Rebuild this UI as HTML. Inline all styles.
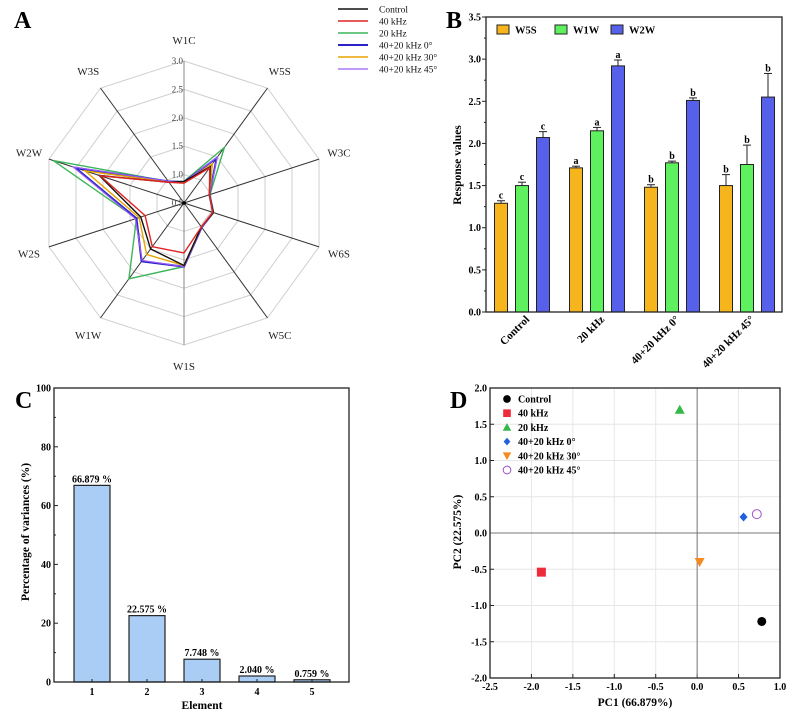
<!DOCTYPE html>
<html><head><meta charset="utf-8"><style>
body{margin:0;background:#fff}
svg{display:block;font-family:"Liberation Serif",serif}
</style></head><body>
<svg id="fig" width="787" height="713" viewBox="0 0 787 713" xmlns="http://www.w3.org/2000/svg">
<g id="A"></g>
<g id="B"></g>
<g id="C"></g>
<g id="D"></g>
</svg>
<script>
// ---- Panel A data ----
const radarAxes = ["W1C","W5S","W3C","W6S","W5C","W1S","W1W","W2S","W2W","W3S"];
const radarTicks = [0.5,1.0,1.5,2.0,2.5,3.0];
const radarNames = ["Control","40 kHz","20 kHz","40+20 kHz 0°","40+20 kHz 30°","40+20 kHz 45°"];
const radarControl = [0.88,1.29,0.97,1.04,1.02,1.60,1.50,1.30,2.07,0.95];
const radar40 = [0.85,1.27,0.97,1.03,1.02,1.38,1.45,1.22,2.05,0.95];
const radar20 = [0.88,1.71,0.98,1.05,1.03,1.62,2.15,1.38,2.92,0.97];
const radar0 = [0.87,1.48,0.97,1.04,1.03,1.62,1.77,1.38,2.51,0.97];
const radar30 = [0.86,1.35,0.97,1.04,1.02,1.60,1.62,1.33,2.33,0.95];
const radar45 = [0.87,1.50,0.97,1.04,1.03,1.62,1.75,1.40,2.55,0.97];
// ---- Panel B data ----
const barGroups = ["Control","20 kHz","40+20 kHz 0°","40+20 kHz 45°"];
const barSeries = ["W5S","W1W","W2W"];
const barW5S = [1.29,1.71,1.48,1.50];
const barW1W = [1.50,2.15,1.77,1.75];
const barW2W = [2.07,2.92,2.51,2.55];
const errW5S = [0.03,0.02,0.03,0.13];
const errW1W = [0.04,0.04,0.02,0.23];
const errW2W = [0.07,0.07,0.03,0.28];
const letW5S = ["c","a","b","b"];
const letW1W = ["c","a","b","b"];
const letW2W = ["c","a","b","b"];
const barYTicks = [0,0.5,1.0,1.5,2.0,2.5,3.0,3.5];
// ---- Panel C data ----
const varElements = ["1","2","3","4","5"];
const varValues = [66.879,22.575,7.748,2.040,0.759];
const varLabels = ["66.879 %","22.575 %","7.748 %","2.040 %","0.759 %"];
const varYTicks = [0,20,40,60,80,100];
// ---- Panel D data ----
const pcaNames = ["Control","40 kHz","20 kHz","40+20 kHz 0°","40+20 kHz 30°","40+20 kHz 45°"];
const pcaX = [0.78,-1.88,-0.21,0.56,0.03,0.72];
const pcaY = [-1.22,-0.54,1.70,0.22,-0.40,0.26];
const pcaXTicks = [-2.5,-2.0,-1.5,-1.0,-0.5,0.0,0.5,1.0];
const pcaYTicks = [-2.0,-1.5,-1.0,-0.5,0.0,0.5,1.0,1.5,2.0];

const NS="http://www.w3.org/2000/svg";
function mk(parent,tag,attrs,text){const e=document.createElementNS(NS,tag);for(const k in attrs)e.setAttribute(k,attrs[k]);if(text!==undefined)e.textContent=text;parent.appendChild(e);return e;}

// ===== Panel A =====
(function(){
const g=document.getElementById('A');
const cx=184,cy=203;
const r=v=>(v-0.5)*56.8;
const ang=i=>i*Math.PI*2/radarAxes.length;
const pt=(i,v)=>[cx+Math.sin(ang(i))*r(v),cy-Math.cos(ang(i))*r(v)];
let t=mk(g,'text',{x:14,y:28,'font-size':24,'font-weight':'bold'},'A');


radarTicks.slice(1).forEach(tv=>{
  const pts=radarAxes.map((a,i)=>pt(i,tv).join(',')).join(' ');
  const p=mk(g,'polygon',{points:pts,fill:'none',stroke:'#cfcfcf','stroke-width':1});
  
  
});
radarAxes.forEach((a,i)=>{
  const [x,y]=pt(i,3.0);
  const l=mk(g,'line',{x1:cx,y1:cy,x2:x,y2:y,stroke:(i===0||i===5)?'#888':'#333','stroke-width':1});
  
  
  const lx=cx+Math.sin(ang(i))*163, ly=cy-Math.cos(ang(i))*163;
  const tx=mk(g,'text',{x:lx,y:ly+4,'font-size':11,'text-anchor':'middle',fill:'#222'},a);
  
  
});
radarTicks.forEach(tv=>{
  const tx=mk(g,'text',{x:cx-1,y:cy-r(tv)+3,'font-size':9,'text-anchor':'end',fill:'#444'},tv.toFixed(1));
  
  
});
const series=[radarControl,radar40,radar20,radar0,radar30,radar45];
const cols=['#111','#e02424','#3cb55a','#2a22c8','#e8a400','#9a5cf5'];
const widths=[1.4,1.4,1.4,2,1.4,1.2];
const order=[2,3,5,4,0,1];
order.forEach(s=>{
  const pts=series[s].map((v,i)=>pt(i,v).join(',')).join(' ');
  const p=mk(g,'polygon',{points:pts,fill:'none',stroke:cols[s],'stroke-width':widths[s]});
  
  
});
mk(g,'circle',{cx:cx,cy:cy,r:1.8,fill:'#000'});
radarNames.forEach((n,s)=>{
  const y=9+s*12;
  const l=mk(g,'line',{x1:338,y1:y,x2:368,y2:y,stroke:cols[s],'stroke-width':widths[s]});
  
  
  const tx=mk(g,'text',{x:379,y:y+3.5,'font-size':9.5,fill:'#111'},n);
  
  
});
})();

// ===== Panel B =====
(function(){
const g=document.getElementById('B');
const x0=486,x1=782,yT=17,yB=312;
const ys=v=>yB-(v/3.5)*(yB-yT);
const gx=i=>522+i*75;
const t=mk(g,'text',{x:446,y:28,'font-size':24,'font-weight':'bold'},'B');


barYTicks.forEach(tv=>{
  const y=ys(tv);
  mk(g,'line',{x1:x0-4,y1:y,x2:x0,y2:y,stroke:'#222'});
  if(tv<3.5) mk(g,'line',{x1:x0-2,y1:ys(tv+0.25),x2:x0,y2:ys(tv+0.25),stroke:'#222'});
  const tx=mk(g,'text',{x:x0-5,y:y+3.5,'font-size':10,'font-weight':'bold','text-anchor':'end'},tv.toFixed(1));
  
  
});
const yl=mk(g,'text',{x:0,y:0,'font-size':11.5,'font-weight':'bold','text-anchor':'middle',transform:'translate(461,165) rotate(-90)'},'Response values');


const vals=[barW5S,barW1W,barW2W],errs=[errW5S,errW1W,errW2W],lets=[letW5S,letW1W,letW2W];
const cols=['#f6b51c','#5ef05e','#5660ea'];
barGroups.forEach((gn,i)=>{
  vals.forEach((arr,s)=>{
    const cx=gx(i)+(s-1)*21;
    const y=ys(arr[i]);
    const b=mk(g,'rect',{x:cx-6.5,y:y,width:13,height:yB-y,fill:cols[s],stroke:'#222','stroke-width':1});
    
    
    const ye=ys(arr[i]+errs[s][i]);
    mk(g,'line',{x1:cx,y1:y,x2:cx,y2:ye,stroke:'#222'});
    mk(g,'line',{x1:cx-4,y1:ye,x2:cx+4,y2:ye,stroke:'#222'});
    const lt=mk(g,'text',{x:cx,y:ye-2,'font-size':10,'font-weight':'bold','text-anchor':'middle'},lets[s][i]);
    
    
  });
  const xt=mk(g,'text',{x:0,y:0,'font-size':11,'font-weight':'bold','text-anchor':'end',transform:`translate(${gx(i)+8},320) rotate(-45)`},gn);
  
  
});
const fr=mk(g,'rect',{x:x0,y:yT,width:x1-x0,height:yB-yT,fill:'none',stroke:'#222','stroke-width':1.3});


const lx=[497,555,611];
barSeries.forEach((n,s)=>{
  const r=mk(g,'rect',{x:lx[s],y:25,width:12,height:9,fill:cols[s],stroke:'#222'});
  
  
  const tx=mk(g,'text',{x:lx[s]+18,y:33.5,'font-size':10.5,'font-weight':'bold'},n);
  
  
});
})();

// ===== Panel C =====
(function(){
const g=document.getElementById('C');
const x0=54,x1=349,yT=388,yB=682;
const ys=v=>yB-(v/100)*(yB-yT);
const xs=i=>92+i*55;
const t=mk(g,'text',{x:15,y:408,'font-size':24,'font-weight':'bold'},'C');


varYTicks.forEach(tv=>{
  const y=ys(tv);
  mk(g,'line',{x1:x0,y1:y,x2:x0+4,y2:y,stroke:'#222'});
  if(tv<100) mk(g,'line',{x1:x0,y1:ys(tv+10),x2:x0+2,y2:ys(tv+10),stroke:'#222'});
  const tx=mk(g,'text',{x:x0-3,y:y+3.5,'font-size':10,'font-weight':'bold','text-anchor':'end'},String(tv));
  
  
});
varValues.forEach((v,i)=>{
  const y=ys(v);
  const b=mk(g,'rect',{x:xs(i)-18,y:y,width:36,height:yB-y,fill:'#aacdf6',stroke:'#222','stroke-width':1.2});
  
  
  const lt=mk(g,'text',{x:xs(i),y:y-3,'font-size':10,'font-weight':'bold','text-anchor':'middle'},varLabels[i]);
  
  
  mk(g,'line',{x1:xs(i),y1:yB,x2:xs(i),y2:yB-3,stroke:'#222'});
  const xt=mk(g,'text',{x:xs(i),y:yB+13,'font-size':10,'font-weight':'bold','text-anchor':'middle'},varElements[i]);
  
  
});
const fr=mk(g,'rect',{x:x0,y:yT,width:x1-x0,height:yB-yT,fill:'none',stroke:'#222','stroke-width':1.3});


const xl=mk(g,'text',{x:202,y:709,'font-size':11.5,'font-weight':'bold','text-anchor':'middle'},'Element');


const yl=mk(g,'text',{x:0,y:0,'font-size':11.5,'font-weight':'bold','text-anchor':'middle',transform:'translate(29,532) rotate(-90)'},'Percentage of  variances (%)');


})();

// ===== Panel D =====
(function(){
const g=document.getElementById('D');
const x0=490,x1=780,yT=388,yB=678;
const xs=v=>x0+(v+2.5)/3.5*(x1-x0);
const ys=v=>yB-(v+2)/4*(yB-yT);
const t=mk(g,'text',{x:450,y:408,'font-size':24,'font-weight':'bold'},'D');


pcaXTicks.forEach(tv=>{
  const x=xs(tv);
  mk(g,'line',{x1:x,y1:yT,x2:x,y2:yB,stroke:'#e6e6e6'});
  mk(g,'line',{x1:x,y1:yB,x2:x,y2:yB-4,stroke:'#222'});
  const tx=mk(g,'text',{x:x,y:yB+12,'font-size':10,'font-weight':'bold','text-anchor':'middle'},tv.toFixed(1));
  
  
});
pcaYTicks.forEach(tv=>{
  const y=ys(tv);
  mk(g,'line',{x1:x0,y1:y,x2:x1,y2:y,stroke:'#e6e6e6'});
  mk(g,'line',{x1:x0,y1:y,x2:x0+4,y2:y,stroke:'#222'});
  const tx=mk(g,'text',{x:x0-3,y:y+3.5,'font-size':10,'font-weight':'bold','text-anchor':'end'},tv.toFixed(1));
  
  
});
mk(g,'line',{x1:xs(0),y1:yT,x2:xs(0),y2:yB,stroke:'#777','stroke-width':1});
mk(g,'line',{x1:x0,y1:ys(0),x2:x1,y2:ys(0),stroke:'#777','stroke-width':1});
const fr=mk(g,'rect',{x:x0,y:yT,width:x1-x0,height:yB-yT,fill:'none',stroke:'#222','stroke-width':1.3});


function marker(k,x,y,s){
  if(k===0) return mk(g,'circle',{cx:x,cy:y,r:4.5*s,fill:'#000'});
  if(k===1) return mk(g,'rect',{x:x-4.5*s,y:y-4.5*s,width:9*s,height:9*s,fill:'#ee2b3b'});
  if(k===2) return mk(g,'polygon',{points:`${x},${y-5*s} ${x+5*s},${y+4*s} ${x-5*s},${y+4*s}`,fill:'#33b84a'});
  if(k===3) return mk(g,'polygon',{points:`${x},${y-4.5*s} ${x+4*s},${y} ${x},${y+4.5*s} ${x-4*s},${y}`,fill:'#1f5fe0'});
  if(k===4) return mk(g,'polygon',{points:`${x-5*s},${y-4*s} ${x+5*s},${y-4*s} ${x},${y+5*s}`,fill:'#f58a1f'});
  return mk(g,'circle',{cx:x,cy:y,r:4.5*s,fill:'none',stroke:'#a050c8','stroke-width':1});
}
pcaX.forEach((v,i)=>{
  const m=marker(i,xs(v),ys(pcaY[i]),1);
  
  
});
pcaNames.forEach((n,i)=>{
  const y=399+i*14.2;
  const m=marker(i,507,y,0.85);
  
  
  const tx=mk(g,'text',{x:518,y:y+3.5,'font-size':10,'font-weight':'bold'},n);
  
  
});
const xl=mk(g,'text',{x:635,y:706,'font-size':11.5,'font-weight':'bold','text-anchor':'middle'},'PC1 (66.879%)');


const yl=mk(g,'text',{x:0,y:0,'font-size':11.5,'font-weight':'bold','text-anchor':'middle',transform:'translate(461,532) rotate(-90)'},'PC2 (22.575%)');


})();
</script>
</body></html>
